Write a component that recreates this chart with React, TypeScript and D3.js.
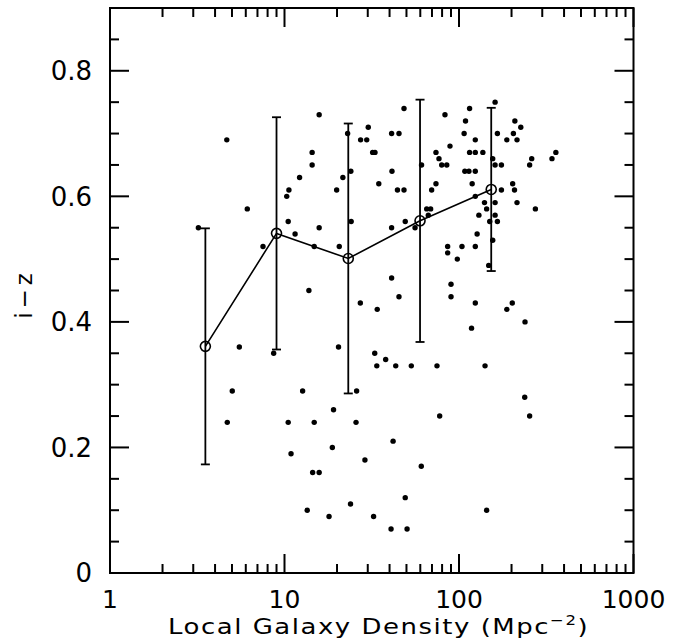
import React from "react";
import * as d3 from "d3";

// Individual galaxies: local density (Mpc^-2) and i−z colour
const densities: number[] = [
  4.67, 15.8, 23.0, 27.3, 29.6, 30.2, 32.0, 33.0, 14.4, 14.4, 12.2, 10.6, 10.3, 19.9, 21.6, 24.0, 34.7,
  48.4, 41.1, 45.3, 41.3, 44.4, 48.4, 61, 83.1, 88.8, 73.8, 76.8, 79.6, 85.1, 73.8, 69.7,
  115, 109, 107, 124, 115, 124, 137, 108, 114, 124, 119, 124, 161, 166, 156, 161, 175, 175,
  209, 226, 205, 188, 215, 261, 254, 341, 359, 203, 208,
  3.21, 6.12, 7.53, 10.5, 11.5, 15.8, 14.8, 13.8, 20.6, 24.1, 27.2, 34.0, 5.51, 8.67, 20.4, 32.9, 38.0, 33.8,
  41.1, 41.1, 5.02, 12.7, 25.9,
  49.2, 56.0, 65.3, 68.8, 66.7, 140, 161, 144, 130, 161, 150, 166, 215, 274, 127, 156, 86.1, 104, 124, 86.1,
  97.8, 148, 90.0, 90.0, 45.3, 124, 188, 202, 239, 118, 43.4, 53.3, 74.8, 141,
  4.70, 10.5, 14.8, 25.7, 19.1, 10.9, 18.8, 28.9, 14.5, 15.8, 13.5, 18.0, 23.9, 32.4, 40.8,
  41.9, 60.8, 49.2, 50.4, 77.5, 144, 238, 254,
];
const colours: number[] = [
  0.69, 0.73, 0.70, 0.69, 0.69, 0.71, 0.67, 0.67, 0.67, 0.65, 0.63, 0.61, 0.60, 0.61, 0.63, 0.64, 0.62,
  0.74, 0.70, 0.70, 0.64, 0.61, 0.61, 0.65, 0.73, 0.68, 0.67, 0.66, 0.65, 0.65, 0.62, 0.61,
  0.74, 0.72, 0.70, 0.69, 0.67, 0.67, 0.67, 0.64, 0.64, 0.64, 0.62, 0.60, 0.75, 0.70, 0.66, 0.65, 0.65, 0.61,
  0.72, 0.71, 0.70, 0.69, 0.69, 0.66, 0.65, 0.66, 0.67, 0.62, 0.61,
  0.55, 0.58, 0.52, 0.56, 0.54, 0.55, 0.52, 0.45, 0.52, 0.56, 0.43, 0.42, 0.36, 0.35, 0.36, 0.35, 0.34, 0.33,
  0.47, 0.55, 0.29, 0.29, 0.29,
  0.56, 0.55, 0.58, 0.58, 0.57, 0.59, 0.59, 0.58, 0.57, 0.57, 0.56, 0.56, 0.59, 0.58, 0.54, 0.53, 0.52, 0.52, 0.52, 0.51,
  0.50, 0.49, 0.46, 0.44, 0.44, 0.43, 0.42, 0.43, 0.40, 0.39, 0.33, 0.33, 0.33, 0.33,
  0.24, 0.24, 0.24, 0.24, 0.26, 0.19, 0.20, 0.18, 0.16, 0.16, 0.10, 0.09, 0.11, 0.09, 0.07,
  0.21, 0.17, 0.12, 0.07, 0.25, 0.10, 0.28, 0.25,
];

// Binned means with error bars
const binDensity: number[] = [3.52, 9.0, 23.2, 59.8, 153];
const binMean: number[] = [0.361, 0.541, 0.501, 0.561, 0.611];
const binErr: number[] = [0.188, 0.185, 0.215, 0.193, 0.13];

const xMajorTicks: number[] = [1, 10, 100, 1000];
const xTickLabels: string[] = ["1", "10", "100", "1000"];
const yMajorTicks: number[] = [0, 0.2, 0.4, 0.6, 0.8];
const yTickLabels: string[] = ["0", "0.2", "0.4", "0.6", "0.8"];

const W = 684;
const H = 644;
const L = 110, R = 633.5, T = 8, B = 573;

export default function App() {
  const x = d3.scaleLog().domain([1, 1000]).range([L, R]);
  const y = d3.scaleLinear().domain([0, 0.9]).range([B, T]);

  const xMinor: number[] = [];
  for (const dec of [1, 10, 100]) for (let m = 2; m <= 9; m++) xMinor.push(dec * m);
  const yMinor: number[] = d3.range(0, 0.9001, 0.05).map((v) => +v.toFixed(2));
  const isYMajor = (v: number) => yMajorTicks.some((t) => Math.abs(t - v) < 1e-6);

  const MAJ = 19, MIN = 9;
  const sw = 2;

  const line = d3
    .line<number>()
    .x((_, i) => x(binDensity[i]))
    .y((_, i) => y(binMean[i]));

  const font = "'DejaVu Sans', sans-serif";
  const sx = 1.18; // horizontal stretch for the wide plotting font

  return (
    <svg
      width={W}
      height={H}
      style={{ position: "absolute", left: 0, top: 0, background: "#fff" }}
    >
      <rect x={0} y={0} width={W} height={H} fill="#fff" />
      {/* frame */}
      <rect x={L} y={T} width={R - L} height={B - T} fill="none" stroke="#000" strokeWidth={sw} />

      {/* x ticks, bottom and top */}
      {xMajorTicks.map((t) => (
        <g key={"xM" + t}>
          <line x1={x(t)} x2={x(t)} y1={B} y2={B - MAJ} stroke="#000" strokeWidth={sw} />
          <line x1={x(t)} x2={x(t)} y1={T} y2={T + MAJ} stroke="#000" strokeWidth={sw} />
        </g>
      ))}
      {xMinor.map((t) => (
        <g key={"xm" + t}>
          <line x1={x(t)} x2={x(t)} y1={B} y2={B - MIN} stroke="#000" strokeWidth={sw} />
          <line x1={x(t)} x2={x(t)} y1={T} y2={T + MIN} stroke="#000" strokeWidth={sw} />
        </g>
      ))}

      {/* y ticks, left and right */}
      {yMinor.map((t) => {
        const len = isYMajor(t) ? MAJ : MIN;
        return (
          <g key={"y" + t}>
            <line x1={L} x2={L + len} y1={y(t)} y2={y(t)} stroke="#000" strokeWidth={sw} />
            <line x1={R} x2={R - len} y1={y(t)} y2={y(t)} stroke="#000" strokeWidth={sw} />
          </g>
        );
      })}

      {/* tick labels */}
      {xMajorTicks.map((t, i) => (
        <text
          key={"xl" + t}
          x={x(t)}
          y={608}
          textAnchor="middle"
          fontFamily={font}
          fontSize={25}
          fill="#000"
        >
          {xTickLabels[i]}
        </text>
      ))}
      {yMajorTicks.map((t, i) => (
        <text
          key={"yl" + t}
          x={92}
          y={y(t)}
          dy="0.36em"
          textAnchor="end"
          fontFamily={font}
          fontSize={26}
          fill="#000"
        >
          {yTickLabels[i]}
        </text>
      ))}

      {/* axis titles */}
      <text
        transform={`translate(168, 634) scale(${sx}, 1)`}
        x={0}
        y={0}
        fontFamily={font}
        fontSize={22}
        letterSpacing={1.3}
        fill="#000"
      >
        Local Galaxy Density (Mpc
        <tspan fontSize={14} dy={-9}>−2</tspan>
        <tspan dy={9}>)</tspan>
      </text>
      <text
        transform={`translate(32, 294) rotate(-90)`}
        textAnchor="middle"
        fontFamily={font}
        fontSize={23}
        letterSpacing={4}
        fill="#000"
      >
        i−z
      </text>

      {/* scatter points */}
      {densities.map((d, i) => (
        <circle key={"p" + i} cx={x(d)} cy={y(colours[i])} r={2.7} fill="#000" />
      ))}

      {/* error bars */}
      {binDensity.map((d, i) => {
        const cx = x(d);
        const y1 = y(binMean[i] - binErr[i]);
        const y2 = y(binMean[i] + binErr[i]);
        return (
          <g key={"e" + i} stroke="#000" strokeWidth={1.8}>
            <line x1={cx} x2={cx} y1={y1} y2={y2} />
            <line x1={cx - 4.5} x2={cx + 4.5} y1={y1} y2={y1} />
            <line x1={cx - 4.5} x2={cx + 4.5} y1={y2} y2={y2} />
          </g>
        );
      })}

      {/* mean line + circles */}
      <path d={line(binDensity) || ""} fill="none" stroke="#000" strokeWidth={1.6} />
      {binDensity.map((d, i) => (
        <circle
          key={"c" + i}
          cx={x(d)}
          cy={y(binMean[i])}
          r={5}
          fill="none"
          stroke="#000"
          strokeWidth={1.6}
        />
      ))}
    </svg>
  );
}
